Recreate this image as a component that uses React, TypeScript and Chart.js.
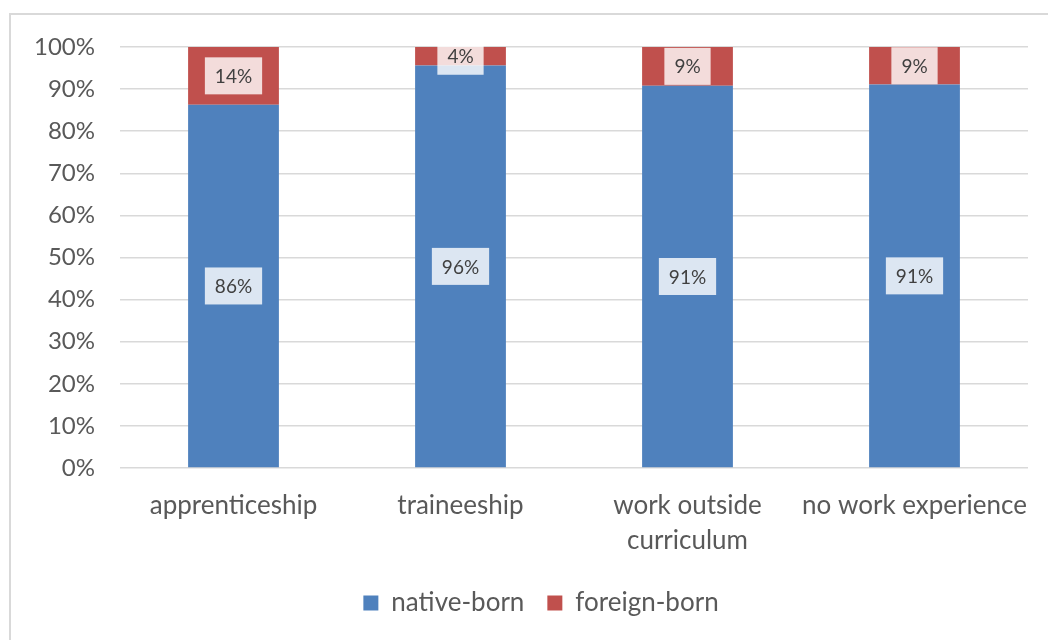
import React, { useEffect, useRef } from 'react';
import { Chart, registerables } from 'chart.js';

Chart.register(...registerables);

const categories: string[][] = [
  ['apprenticeship'],
  ['traineeship'],
  ['work outside', 'curriculum'],
  ['no work experience'],
];
const nativeBorn = [86.3, 95.6, 90.8, 91.1];
const foreignBorn = [13.7, 4.4, 9.2, 8.9];
const seriesNames = ['native-born', 'foreign-born'];
const seriesColors = ['#4f81bd', '#c0504d'];

const FONT = 'Lato, "Open Sans", "Liberation Sans", sans-serif';

const framePlugin = {
  id: 'frame',
  beforeDraw(chart: any) {
    const ctx = chart.ctx;
    ctx.save();
    ctx.fillStyle = '#ffffff';
    ctx.fillRect(0, 0, chart.width, chart.height);
    ctx.strokeStyle = '#d9d9d9';
    ctx.lineWidth = 2;
    ctx.strokeRect(10, 14, chart.width + 20, chart.height + 20);
    ctx.restore();
  },
};

const legendShiftPlugin = {
  id: 'legendShift',
  afterLayout(chart: any) {
    const lg = chart.legend;
    if (lg) {
      lg.left += 17;
      lg.right += 17;
    }
  },
};

const labelPlugin = {
  id: 'segLabels',
  afterDatasetsDraw(chart: any) {
    const ctx = chart.ctx;
    ctx.save();
    ctx.font = '19px ' + FONT;
    ctx.textAlign = 'center';
    ctx.textBaseline = 'middle';
    chart.data.datasets.forEach((ds: any, di: number) => {
      const meta = chart.getDatasetMeta(di);
      meta.data.forEach((bar: any, i: number) => {
        const v = ds.data[i];
        const text = Math.round(v) + '%';
        const cy = (bar.y + bar.base) / 2;
        const w = ctx.measureText(text).width + 20;
        const h = 37;
        ctx.fillStyle = 'rgba(255,255,255,0.8)';
        ctx.fillRect(bar.x - w / 2, cy - h / 2, w, h);
        ctx.fillStyle = '#404040';
        ctx.fillText(text, bar.x, cy + 1);
      });
    });
    ctx.restore();
  },
};

export default function App() {
  const ref = useRef<HTMLCanvasElement>(null);
  useEffect(() => {
    if (!ref.current) return;
    const chart = new Chart(ref.current, {
      type: 'bar',
      data: {
        labels: categories,
        datasets: [
          { label: seriesNames[0], data: nativeBorn, backgroundColor: seriesColors[0], barPercentage: 0.8, categoryPercentage: 0.5 },
          { label: seriesNames[1], data: foreignBorn, backgroundColor: seriesColors[1], barPercentage: 0.8, categoryPercentage: 0.5 },
        ],
      },
      options: {
        responsive: false,
        animation: false,
        layout: { padding: { left: 20, right: 20, top: 47, bottom: 14 } },
        plugins: {
          tooltip: { enabled: false },
          legend: {
            position: 'bottom',
            labels: {
              boxWidth: 15,
              boxHeight: 15,
              padding: 23,
              color: '#595959',
              font: { family: FONT, size: 26 },
            },
          },
        },
        scales: {
          x: {
            stacked: true,
            grid: { display: false },
            border: { display: false },
            ticks: {
              color: '#595959',
              font: { family: FONT, size: 26, lineHeight: 1.35 },
              padding: 12,
              maxRotation: 0,
              autoSkip: false,
            },
            afterFit(scale: any) {
              scale.height = 99;
            },
          },
          y: {
            stacked: true,
            min: 0,
            max: 100,
            grid: { color: '#d9d9d9', lineWidth: 1.5, drawTicks: false },
            border: { display: false },
            ticks: {
              stepSize: 10,
              color: '#595959',
              padding: 25,
              font: { family: FONT, size: 24 },
              callback: (v: any) => v + '%',
            },
            afterFit(scale: any) {
              scale.width = 100;
            },
          },
        },
      },
      plugins: [framePlugin, legendShiftPlugin, labelPlugin],
    });
    return () => chart.destroy();
  }, []);
  return (
    <div style={{ position: 'fixed', left: 0, top: 0, width: 1048, height: 640 }}>
      <canvas ref={ref} width={1048} height={640} />
    </div>
  );
}
